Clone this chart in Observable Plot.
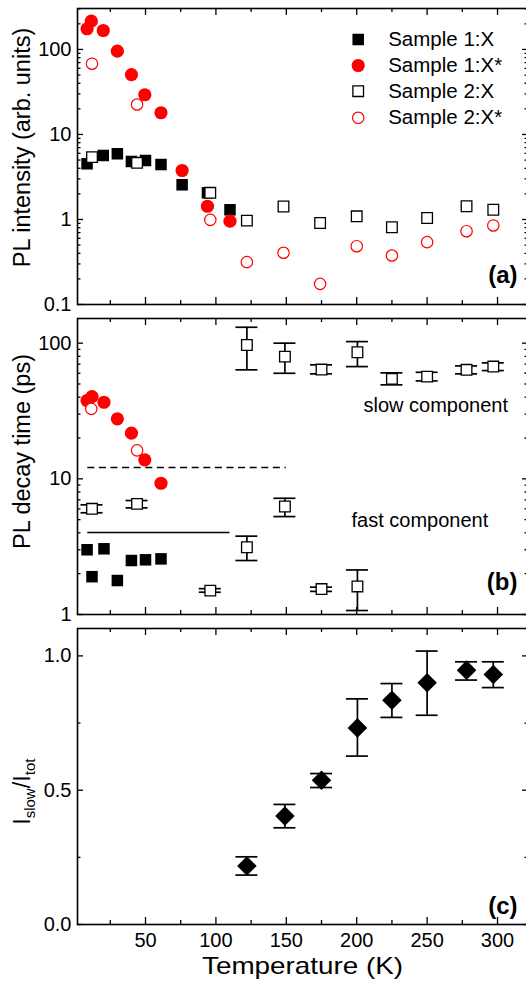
<!DOCTYPE html>
<html><head><meta charset="utf-8">
<script src="https://cdn.jsdelivr.net/npm/d3@7"></script>
<script src="https://cdn.jsdelivr.net/npm/@observablehq/plot@0.6"></script>
<style>
html,body{margin:0;padding:0;background:#fff;overflow:hidden;}
#chart{position:relative;width:526px;height:986px;overflow:hidden;background:#fff;}
#chart svg{position:absolute;left:0;}
</style></head><body><div id="chart"></div>
<script>
const FONT = "'Liberation Sans', Arial, Helvetica, sans-serif";

// ---------- Panel (a): PL intensity ----------
const tempA1X  = [8.5, 20, 30, 40, 50, 61, 76, 94, 110];
const intA1X   = [4.52, 5.66, 5.93, 4.81, 4.94, 4.43, 2.56, 2.06, 1.30];
const tempA1Xs = [8.5, 11.5, 20, 30, 40, 49.5, 61, 76, 94, 110];
const intA1Xs  = [175, 215, 167, 95.5, 50.5, 29.3, 18, 3.77, 1.43, 0.955];
const tempA2   = [12, 44, 96, 122, 148, 174, 200, 225, 250, 278, 297];
const intA2X   = [5.41, 4.64, 2.06, 0.97, 1.42, 0.91, 1.09, 0.81, 1.04, 1.43, 1.30];
const intA2Xs  = [67.9, 22.5, 0.99, 0.315, 0.406, 0.175, 0.485, 0.377, 0.541, 0.728, 0.85];
const legendLabels = ["Sample 1:X", "Sample 1:X*", "Sample 2:X", "Sample 2:X*"];

// ---------- Panel (b): PL decay time ----------
const tempB1Xs = [8.5, 12, 20.5, 30, 40, 49.5, 61];
const tauB1Xs  = [37.8, 40.4, 36.7, 27.7, 21.7, 13.8, 9.28];
const tempB2Xs = [11.5, 44];
const tauB2Xs  = [32.8, 16.2];
const tempB1X  = [8.5, 12, 20.5, 30, 40, 50, 61];
const tauB1X   = [3.0, 1.9, 3.05, 1.78, 2.5, 2.53, 2.57];
const tempSlow = [122, 149, 175, 200.5, 225, 250, 278, 297];
const tauSlow  = [97, 79.6, 63.9, 85.7, 54.6, 56.7, 63.6, 67.2];
const tauSlowLo= [63.6, 60, 59.4, 67.2, 49.3, 52.7, 59.4, 62.8];
const tauSlowHi= [131, 100, 69.2, 102.7, 60.4, 61, 68, 71.6];
const tempFast = [12, 44, 96, 122, 149, 175, 200.5];
const tauFast  = [6.01, 6.54, 1.50, 3.13, 6.25, 1.54, 1.61];
const tauFastLo= [5.62, 6.11, 1.46, 2.50, 5.27, 1.48, 1.07];
const tauFastHi= [6.43, 6.92, 1.55, 3.78, 7.19, 1.59, 2.13];
const refDashed = {value: 12.1, from: 9, to: 150};
const refSolid  = {value: 4.02, from: 9, to: 110};

// ---------- Panel (c): I_slow / I_tot ----------
const tempC  = [122, 149, 175, 200.5, 225, 250, 278, 297];
const ratioC = [0.218, 0.404, 0.537, 0.732, 0.835, 0.900, 0.947, 0.931];
const ratioLo= [0.184, 0.360, 0.510, 0.627, 0.771, 0.779, 0.910, 0.882];
const ratioHi= [0.252, 0.447, 0.562, 0.840, 0.897, 1.018, 0.978, 0.978];

// ---------- Tick labels ----------
const xMajor = [50, 100, 150, 200, 250, 300];
const xMinor = [25, 75, 125, 175, 225, 275];
const yMajorA = [0.1, 1, 10, 100];
const yMajorB = [1, 10, 100];
const yMajorC = [0, 0.5, 1.0];
const yMinorC = [0.25, 0.75];

const pts = (ts, vs) => ts.map((t, i) => ({t, v: vs[i]}));
const bars = (ts, vs, lo, hi) => ts.map((t, i) => ({t, v: vs[i], lo: lo[i], hi: hi[i]}));
function logMinor(major, domain) {
  const out = [];
  for (const m of major) for (let k = 2; k <= 9; k++) { const v = m * k; if (v >= domain[0] && v <= domain[1]) out.push(v); }
  return out;
}

const W = 530, ML = 77, MR = 2, FW = W - ML - MR, H = 296;
const xDomain = [1.7, 322];
const BLACK = "#000", RED = "#ff0000";
const sq1   = {symbol: "square", r: 6.5, fill: BLACK, stroke: "none"};
const circ1 = {symbol: "circle", r: 6.6, fill: RED, stroke: "none"};
const sq2   = {symbol: "square", r: 6.0, fill: "#fff", stroke: BLACK, strokeWidth: 1.3};
const circ2 = {symbol: "circle", r: 5.7, fill: "#fff", stroke: RED, strokeWidth: 1.2};
const dia   = {symbol: "diamond2", r: 8.8, fill: BLACK, stroke: "none"};

function frameTicks(yMaj, yMin) {
  const s = {stroke: BLACK, strokeWidth: 1.3};
  return [
    Plot.ruleX(xMajor, {x: d => d, insetTop: H - 7, ...s}),
    Plot.ruleX(xMinor, {x: d => d, insetTop: H - 4, ...s}),
    Plot.ruleX(xMajor, {x: d => d, insetBottom: H - 7, ...s}),
    Plot.ruleX(xMinor, {x: d => d, insetBottom: H - 4, ...s}),
    Plot.ruleY(yMaj, {y: d => d, insetRight: FW - 6, ...s}),
    Plot.ruleY(yMin, {y: d => d, insetRight: FW - 3.5, ...s}),
    Plot.ruleY(yMaj, {y: d => d, insetLeft: FW - 6, ...s}),
    Plot.ruleY(yMin, {y: d => d, insetLeft: FW - 3.5, ...s}),
    Plot.frame({stroke: BLACK, strokeWidth: 1.6})
  ];
}
function errorBars(data) {
  const s = {stroke: BLACK, strokeWidth: 1.7};
  return [
    Plot.ruleX(data, {x: "t", y1: "lo", y2: "hi", ...s}),
    Plot.ruleY(data, {y: "lo", x1: "t", x2: "t", insetLeft: -11, insetRight: -11, ...s}),
    Plot.ruleY(data, {y: "hi", x1: "t", x2: "t", insetLeft: -11, insetRight: -11, ...s})
  ];
}
const baseStyle = {fontFamily: FONT, fontSize: "20px", color: "#000", background: "transparent", maxWidth: "none", overflow: "visible"};
const panelLabel = (txt, dy) => Plot.text([txt], {frameAnchor: "bottom-right", dx: -11, dy, textAnchor: "end", lineAnchor: "middle", fontWeight: "bold", fontSize: 24, fontFamily: FONT});

// ---------- Panel A ----------
const yDomA = [0.1, 303];
const legendStyles = [sq1, circ1, sq2, circ2];
const legendRowsDy = [31, 57, 82.7, 109.3];
const legendMarks = legendLabels.flatMap((lab, i) => [
  Plot.dot([lab], {frameAnchor: "top-left", dx: 280.7, dy: legendRowsDy[i], ...legendStyles[i]}),
  Plot.text([lab], {frameAnchor: "top-left", dx: 310.7, dy: legendRowsDy[i], textAnchor: "start", lineAnchor: "middle", fontSize: 20.5, fontFamily: FONT})
]);
const plotA = Plot.plot({
  width: W, height: 312, marginLeft: ML, marginRight: MR, marginTop: 8, marginBottom: 8,
  style: baseStyle,
  x: {domain: xDomain, axis: null},
  y: {type: "log", domain: yDomA},
  marks: [
    Plot.axisY({ticks: yMajorA, tickSize: 0, tickPadding: 6, label: null, tickFormat: d => String(d), fontSize: 20}),
    Plot.dot(pts(tempA1X, intA1X), {x: "t", y: "v", ...sq1}),
    Plot.dot(pts(tempA1Xs, intA1Xs), {x: "t", y: "v", ...circ1}),
    Plot.dot(pts(tempA2, intA2X), {x: "t", y: "v", ...sq2}),
    Plot.dot(pts(tempA2, intA2Xs), {x: "t", y: "v", ...circ2}),
    ...legendMarks,
    panelLabel("(a)", -29),
    ...frameTicks(yMajorA, logMinor(yMajorA, yDomA))
  ]
});

// ---------- Panel B ----------
const yDomB = [1, 152];
const plotB = Plot.plot({
  width: W, height: 310, marginLeft: ML, marginRight: MR, marginTop: 6, marginBottom: 8,
  style: baseStyle,
  x: {domain: xDomain, axis: null},
  y: {type: "log", domain: yDomB},
  marks: [
    Plot.axisY({ticks: yMajorB, tickSize: 0, tickPadding: 6, label: null, tickFormat: d => String(d), fontSize: 20}),
    Plot.ruleY([refDashed], {y: "value", x1: "from", x2: "to", stroke: BLACK, strokeWidth: 1.5, strokeDasharray: "7,4.6"}),
    Plot.ruleY([refSolid], {y: "value", x1: "from", x2: "to", stroke: BLACK, strokeWidth: 1.5}),
    Plot.dot(pts(tempB1X, tauB1X), {x: "t", y: "v", ...sq1}),
    Plot.dot(pts(tempB1Xs, tauB1Xs), {x: "t", y: "v", ...circ1}),
    Plot.dot(pts(tempB2Xs, tauB2Xs), {x: "t", y: "v", ...circ2}),
    ...errorBars(bars(tempSlow, tauSlow, tauSlowLo, tauSlowHi)),
    ...errorBars(bars(tempFast, tauFast, tauFastLo, tauFastHi)),
    Plot.dot(pts(tempSlow, tauSlow), {x: "t", y: "v", ...sq2}),
    Plot.dot(pts(tempFast, tauFast), {x: "t", y: "v", ...sq2}),
    Plot.text(["slow component"], {frameAnchor: "top-left", dx: 286, dy: 87.5, textAnchor: "start", lineAnchor: "middle", fontSize: 20, fontFamily: FONT}),
    Plot.text(["fast component"], {frameAnchor: "top-left", dx: 274, dy: 201.7, textAnchor: "start", lineAnchor: "middle", fontSize: 20, fontFamily: FONT}),
    panelLabel("(b)", -32.5),
    ...frameTicks(yMajorB, logMinor(yMajorB, yDomB))
  ]
});

// ---------- Panel C ----------
const plotC = Plot.plot({
  width: W, height: 364, marginLeft: ML, marginRight: MR, marginTop: 6, marginBottom: 62,
  style: baseStyle,
  x: {domain: xDomain},
  y: {domain: [0, 1.102]},
  marks: [
    Plot.axisY({ticks: yMajorC, tickSize: 0, tickPadding: 6, label: null, tickFormat: d3.format(".1f"), fontSize: 20}),
    Plot.axisX({ticks: xMajor, tickSize: 0, tickPadding: 8, label: null, tickFormat: d => String(d), fontSize: 20}),
    ...errorBars(bars(tempC, ratioC, ratioLo, ratioHi)),
    Plot.dot(pts(tempC, ratioC), {x: "t", y: "v", ...dia}),
    panelLabel("(c)", -18),
    ...frameTicks(yMajorC, yMinorC)
  ]
});

const chart = document.getElementById("chart");
[[plotA, 0], [plotB, 312], [plotC, 622]].forEach(([p, top]) => { p.style.top = top + "px"; chart.appendChild(p); });

function yTitle(svg, x, y, parts) {
  const t = d3.select(svg).append("text")
    .attr("transform", `translate(${x},${y}) rotate(-90)`)
    .attr("text-anchor", "middle").attr("font-family", FONT).attr("font-size", 23.5).attr("fill", "#000");
  parts.forEach(p => {
    const s = t.append("tspan").text(p.text);
    if (p.sub) s.attr("font-size", 15).attr("dy", 5);
    if (p.up) s.attr("dy", -5);
  });
}
yTitle(plotA, 30, 147.5, [{text: "PL intensity (arb. units)"}]);
yTitle(plotB, 30, 451.5 - 312, [{text: "PL decay time (ps)"}]);
yTitle(plotC, 30, 791.7 - 622, [{text: "I"}, {text: "slow", sub: true}, {text: "/", up: true}, {text: "I"}, {text: "tot", sub: true}]);

d3.select(plotC).append("text")
  .attr("x", 302.5).attr("y", 974 - 622)
  .attr("text-anchor", "middle").attr("font-family", FONT).attr("font-size", 24).attr("fill", "#000")
  .attr("textLength", 201).attr("lengthAdjust", "spacingAndGlyphs")
  .text("Temperature (K)");
</script></body></html>
